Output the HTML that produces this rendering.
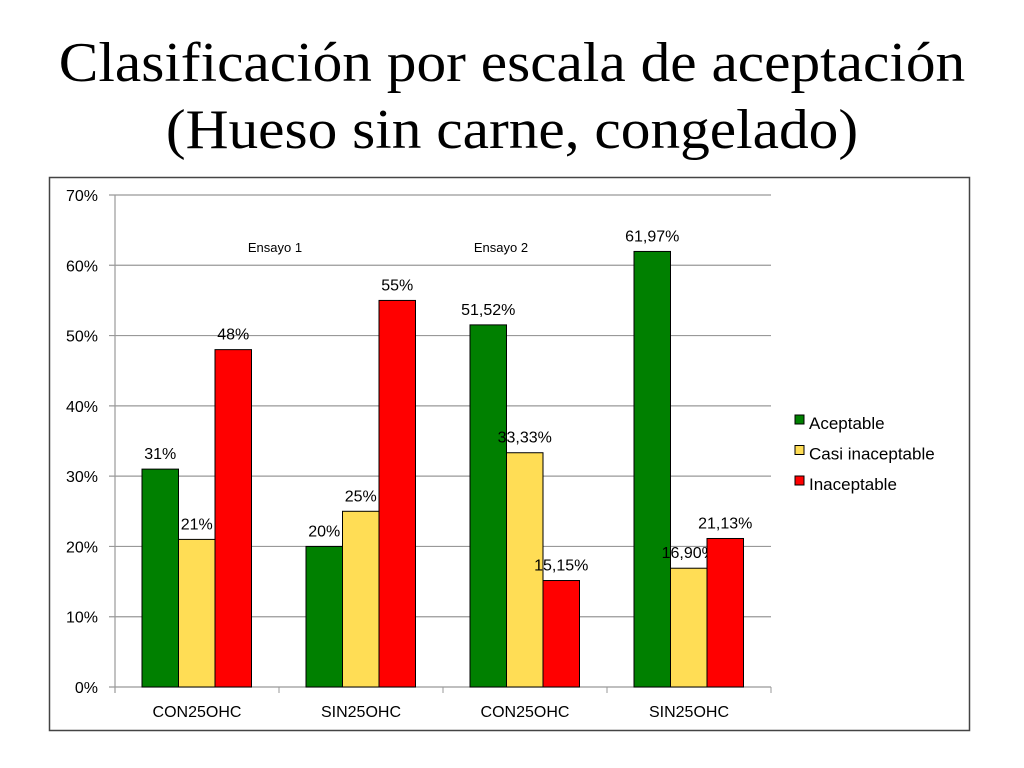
<!DOCTYPE html>
<html><head><meta charset="utf-8"><style>
body{margin:0;width:1024px;height:768px;background:#fff;overflow:hidden;font-family:"Liberation Sans",sans-serif}
#title{position:absolute;left:0;top:30px;width:1024px;text-align:center;font-family:"Liberation Serif","DejaVu Serif",serif;font-size:56px;line-height:67px;color:#000;transform:scaleX(1.06);transform-origin:512px 0}
svg{position:absolute;left:0;top:0}
</style></head><body>
<div id="title">Clasificación por escala de aceptación<br>(Hueso sin carne, congelado)</div>
<svg id="chart" width="1024" height="768"></svg>
<script>
const categories=["CON25OHC","SIN25OHC","CON25OHC","SIN25OHC"];
const seriesNames=["Aceptable","Casi inaceptable","Inaceptable"];
const aceptable=[31,20,51.52,61.97];
const casi=[21,25,33.33,16.90];
const inaceptable=[48,55,15.15,21.13];
const labelsA=["31%","20%","51,52%","61,97%"];
const labelsC=["21%","25%","33,33%","16,90%"];
const labelsI=["48%","55%","15,15%","21,13%"];
const yTicks=[0,10,20,30,40,50,60,70];
const colors=["#008000","#ffdd55","#ff0000"];
const NS="http://www.w3.org/2000/svg";
const svg=document.getElementById('chart');
const X0=115,X1=771,Y0=687,Y70=195;
const y=v=>Y0-(v/70)*(Y0-Y70);
const gw=(X1-X0)/categories.length;
const bw=36.5;
const x=(g,s)=>X0+g*gw+27+s*bw;
function mk(t,a){const e=document.createElementNS(NS,t);for(const k in a)e.setAttribute(k,a[k]);svg.appendChild(e);return e;}
let e=mk('rect',{x:49.5,y:177.5,width:920,height:553,fill:'#fff',stroke:'#444','stroke-width':1.5});


yTicks.forEach(t=>{
 let l=mk('line',{x1:X0-6,x2:X1,y1:y(t),y2:y(t),stroke:'#999','stroke-width':1.2});
 
 
 let tx=mk('text',{x:98,y:y(t)+6,'text-anchor':'end','font-size':16,fill:'#000'});
 tx.textContent=t+'%';
 
 
});
e=mk('line',{x1:X0,x2:X0,y1:Y70,y2:Y0+6,stroke:'#999','stroke-width':1.2});


for(let g=0;g<=categories.length;g++){let l=mk('line',{x1:X0+g*gw,x2:X0+g*gw,y1:Y0,y2:Y0+6,stroke:'#999'});
 
 }
const data=[aceptable,casi,inaceptable],labs=[labelsA,labelsC,labelsI];
categories.forEach((c,g)=>{
 data.forEach((arr,s)=>{
  let r=mk('rect',{x:x(g,s),y:y(arr[g]),width:bw,height:Y0-y(arr[g]),fill:colors[s],stroke:'#000','stroke-width':1});
  
  
  let t=mk('text',{x:x(g,s)+bw/2,y:y(arr[g])-10,'text-anchor':'middle','font-size':16,fill:'#000'});
  t.textContent=labs[s][g];
  
  
 });
 let t=mk('text',{x:X0+g*gw+gw/2,y:717,'text-anchor':'middle','font-size':16,fill:'#000'});
 t.textContent=c;
 
 
});
[["Ensayo 1",275],["Ensayo 2",501]].forEach(([s,px])=>{
 let t=mk('text',{x:px,y:252,'text-anchor':'middle','font-size':13,fill:'#000'});
 t.textContent=s;
 
 
});
seriesNames.forEach((n,i)=>{
 let r=mk('rect',{x:795,y:415+i*30.5,width:9,height:9,fill:colors[i],stroke:'#000','stroke-width':1});
 
 
 let t=mk('text',{x:809,y:429+i*30.5,'font-size':17,fill:'#000'});
 t.textContent=n;
 
 
});
</script>
</body></html>
